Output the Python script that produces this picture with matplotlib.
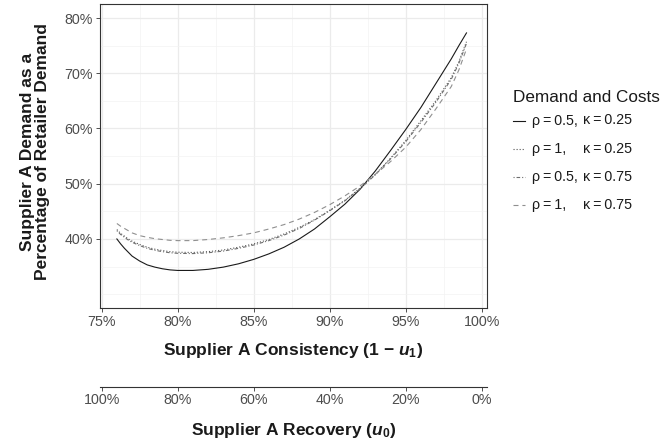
import matplotlib
matplotlib.use('Agg')
import matplotlib.pyplot as plt
from matplotlib.lines import Line2D
from matplotlib.ticker import FixedLocator, FuncFormatter

plt.rcParams['font.family'] = 'Liberation Sans'
plt.rcParams['mathtext.fontset'] = 'custom'
plt.rcParams['mathtext.rm'] = 'Liberation Sans'
plt.rcParams['mathtext.bf'] = 'Liberation Sans:bold'
plt.rcParams['mathtext.it'] = 'Liberation Sans:italic'
plt.rcParams['mathtext.bfit'] = 'Liberation Sans:bold:italic'
plt.rcParams['lines.scale_dashes'] = False

# supplier A consistency (1 - u1)
consistency = [0.76, 0.7625, 0.765, 0.7675, 0.77, 0.775, 0.78, 0.785, 0.79, 0.795,
               0.80, 0.81, 0.82, 0.83, 0.84, 0.85, 0.86, 0.87, 0.88, 0.89,
               0.90, 0.91, 0.92, 0.93, 0.94, 0.95, 0.96, 0.97, 0.98, 0.985, 0.99]

# supplier A demand, % of retailer demand
rho05_k025 = [40.0, 39.1, 38.3, 37.6, 36.9, 36.0, 35.3, 34.9, 34.6, 34.4,
              34.3, 34.3, 34.5, 34.9, 35.5, 36.3, 37.3, 38.5, 40.0, 41.8,
              44.0, 46.3, 49.0, 52.3, 56.0, 59.8, 63.8, 68.2, 72.6, 75.0, 77.3]
rho1_k025 = [41.7, 41.0, 40.5, 40.0, 39.6, 39.0, 38.5, 38.15, 37.9, 37.7,
             37.6, 37.55, 37.7, 38.0, 38.5, 39.1, 39.9, 40.9, 42.1, 43.5,
             45.2, 47.0, 49.2, 51.7, 54.6, 57.8, 61.4, 65.1, 69.2, 72.1, 75.7]
rho05_k075 = [41.5, 40.8, 40.3, 39.8, 39.4, 38.8, 38.3, 37.95, 37.7, 37.5,
              37.4, 37.35, 37.5, 37.8, 38.3, 38.9, 39.7, 40.7, 41.9, 43.4,
              45.1, 46.9, 49.1, 51.6, 54.5, 57.6, 61.1, 64.8, 68.9, 71.8, 75.4]
rho1_k075 = [42.8, 42.3, 41.9, 41.5, 41.1, 40.6, 40.3, 40.05, 39.9, 39.75,
             39.7, 39.7, 39.9, 40.2, 40.6, 41.1, 41.8, 42.6, 43.6, 44.8,
             46.2, 47.8, 49.6, 51.7, 54.0, 56.6, 59.8, 63.6, 67.6, 70.6, 74.4]

series = [rho05_k025, rho1_k025, rho05_k075, rho1_k075]
rho_labels = ['\u03c1\u2009=\u20090.5,', '\u03c1\u2009=\u20091,',
              '\u03c1\u2009=\u20090.5,', '\u03c1\u2009=\u20091,']
kappa_labels = ['\u03ba\u2009=\u20090.25', '\u03ba\u2009=\u20090.25',
                '\u03ba\u2009=\u20090.75', '\u03ba\u2009=\u20090.75']
line_colors = ['#1a1a1a', '#555555', '#6e6e6e', '#8f8f8f']
line_styles = ['-', (0, (0.8, 1.4)), (0, (0.8, 1.4, 2.6, 1.4)), (0, (3.6, 2.8))]

x_ticks = [0.75, 0.80, 0.85, 0.90, 0.95, 1.00]
y_ticks = [40, 50, 60, 70, 80]
recovery_ticks = [1.0, 0.8, 0.6, 0.4, 0.2, 0.0]

W, H = 665, 443
fig = plt.figure(figsize=(W / 100, H / 100), dpi=100)

left, right, top, bottom = 100, 487, 4.2, 308
ax = fig.add_axes([left / W, 1 - bottom / H, (right - left) / W, (bottom - top) / H])

for i, ys in enumerate(series):
    ax.plot(consistency, ys, color=line_colors[i], linestyle=line_styles[i], linewidth=0.8)

xlo, xhi = 0.7489, 1.0035
ax.set_xlim(xlo, xhi)
ax.set_ylim(27.5, 82.5)
ax.xaxis.set_major_locator(FixedLocator(x_ticks))
ax.xaxis.set_minor_locator(FixedLocator([0.775, 0.825, 0.875, 0.925, 0.975]))
ax.yaxis.set_major_locator(FixedLocator(y_ticks))
ax.yaxis.set_minor_locator(FixedLocator([30, 35, 45, 55, 65, 75]))
ax.xaxis.set_major_formatter(FuncFormatter(lambda v, p: f'{v * 100:.0f}%'))
ax.yaxis.set_major_formatter(FuncFormatter(lambda v, p: f'{v:.0f}%'))
ax.grid(which='major', color='#ebebeb', linewidth=0.9)
ax.grid(which='minor', color='#f3f3f3', linewidth=0.5)
ax.set_axisbelow(True)
ax.tick_params(which='major', length=3, width=0.6, color='#333333',
               labelcolor='#4d4d4d', labelsize=10.3, pad=2)
ax.tick_params(which='minor', length=0)
for sp in ax.spines.values():
    sp.set_color('#333333')
    sp.set_linewidth(0.8)

# second axis: supplier A recovery (u0)
line_y = 386.5
ax2 = fig.add_axes([left / W, 1 - line_y / H, (right - left) / W, 0.0001])
ax2.set_xlim(4 * (1 - xlo), 4 * (1 - xhi))
ax2.set_ylim(0, 1)
ax2.patch.set_alpha(0)
for s in ['left', 'right', 'top']:
    ax2.spines[s].set_visible(False)
ax2.spines['bottom'].set_color('#333333')
ax2.spines['bottom'].set_linewidth(0.8)
ax2.set_yticks([])
ax2.xaxis.set_major_locator(FixedLocator(recovery_ticks))
ax2.xaxis.set_major_formatter(FuncFormatter(lambda v, p: f'{v * 100:.0f}%'))
ax2.tick_params(length=3, width=0.6, color='#333333', labelcolor='#4d4d4d',
                labelsize=10.3, pad=2)

# axis titles
cx = (left + right) / 2 / W
fig.text(cx, 1 - 351 / H, 'Supplier A Consistency (1 \u2212 $\\mathbfit{u}_\\mathbf{1}$)',
         ha='center', va='center', fontsize=12.5, weight='bold', color='#1a1a1a')
fig.text(cx, 1 - 431 / H, 'Supplier A Recovery ($\\mathbfit{u}_\\mathbf{0}$)',
         ha='center', va='center', fontsize=12.5, weight='bold', color='#1a1a1a')
fig.text(35 / W, 1 - 152 / H, 'Supplier A Demand as a\nPercentage of Retailer Demand',
         rotation=90, ha='center', va='center', fontsize=12.5, weight='bold',
         color='#1a1a1a', linespacing=1.05, multialignment='center')

# legend
fig.text(513 / W, 1 - 98 / H, 'Demand and Costs', ha='left', va='center',
         fontsize=12.3, color='#1a1a1a')
for i in range(len(series)):
    ry = 1 - (120.5 + 28.2 * i) / H
    fig.add_artist(Line2D([513 / W, 525 / W], [ry, ry], transform=fig.transFigure,
                          color=line_colors[i], linestyle=line_styles[i], linewidth=0.8))
    fig.text(531.5 / W, ry, rho_labels[i], ha='left', va='center', fontsize=10.3,
             color='#1a1a1a')
    fig.text(583 / W, ry, kappa_labels[i], ha='left', va='center', fontsize=10.3,
             color='#1a1a1a')

fig.savefig('out.png', dpi=100)
